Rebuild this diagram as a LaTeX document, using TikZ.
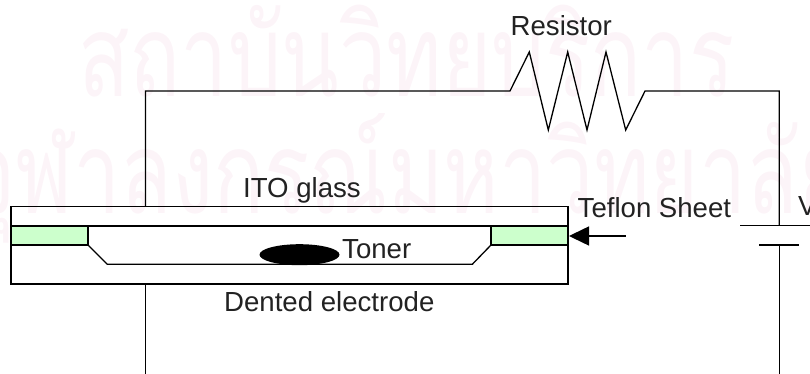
\documentclass[tikz,border=0pt]{standalone}
\usepackage{fontspec}
\usetikzlibrary{shapes.geometric}
\setmainfont{Liberation Sans}
\newfontfamily\thaifont[Script=Thai]{Loma}
\definecolor{wm}{HTML}{FCF4F8}
\definecolor{spacer}{HTML}{CCFFCC}
\definecolor{txt}{HTML}{222222}
\tikzset{
  lab/.style={inner sep=0pt,anchor=base west,text=txt,font=\fontsize{27.6}{28}\selectfont},
  wire/.style={draw=black,line width=1.3pt,line join=miter},
  heavy/.style={draw=black,line width=1.6pt,line join=miter},
  wmark/.style={inner sep=0pt,anchor=base west,text=wm,font=\thaifont\fontsize{114}{114}\selectfont},
}
\begin{document}
\begin{tikzpicture}[x=1pt,y=-1pt]
\useasboundingbox (0,0) rectangle (810,374);
\clip (0,0) rectangle (810,374);
\node[wmark] (wa) at (78,97) {\scalebox{0.74}[1]{สถาบันวิทยบริการ}};
\node[wmark] (wb) at (-34,213) {\scalebox{0.74}[1]{จุฬาลงกรณ์มหาวิทยาลัย}};
% device
\fill[spacer] (11,225.7) rectangle (88,245);
\fill[spacer] (491,225.7) rectangle (568,245);
\draw[heavy] (11,206.3) rectangle (568,283.7);
\draw[heavy] (11,225.7) -- (568,225.7);
\coordinate (sl) at (11,245);
\coordinate (sr) at (568,245);
\draw[wire] (sl) -- (88,245) -- (88,225.7);
\draw[wire] (sr) -- (491,245) -- (491,225.7);
\draw[wire] (88,245) -- (107.3,264.3) -- (472.3,264.3) -- (491,245);
\node[draw=none,fill=black,ellipse,minimum width=80pt,minimum height=21pt,inner sep=0pt] (toner) at (299.5,254.7) {};
% connectors
\coordinate (glasstop) at (145.5,206.3);
\coordinate (glassbot) at (145.5,283.7);
\coordinate (wtl) at (145.5,91);
\coordinate (rl) at (510,91);
\coordinate (rr) at (645,91);
\coordinate (wtr) at (779.3,91);
\coordinate (platea) at (779.3,225.7);
\coordinate (plateb) at (779.3,245);
\coordinate (endl) at (145.5,374);
\coordinate (endr) at (779.3,374);
\draw[wire] (glasstop) -- (wtl) -- (rl) -- (529.3,52) -- (548.3,130) -- (567.7,52) -- (587,130) -- (606,52) -- (625.7,130) -- (rr) -- (wtr) -- (platea);
\draw[wire] (glassbot) -- (endl);
\draw[wire] (plateb) -- (endr);
\draw[wire] (740,225.7) -- (815,225.7);
\draw[wire] (759.3,245) -- (799,245);
% arrow
\coordinate (tip) at (569,236);
\coordinate (tail) at (625.7,236);
\fill[black] (tip) -- (589,226.3) -- (589,245.7) -- cycle;
\draw[wire] (589,236) -- (tail);
% labels
\node[lab] (l1) at (510.5,36) {Resistor};
\node[lab] (l2) at (243,197) {ITO glass};
\node[lab] (l3) at (577.5,217) {Teflon Sheet};
\node[lab] (l4) at (342,258) {Toner};
\node[lab] (l5) at (224,311.7) {Dented electrode};
\node[lab] (l6) at (798,215) {V};
\end{tikzpicture}
\end{document}
